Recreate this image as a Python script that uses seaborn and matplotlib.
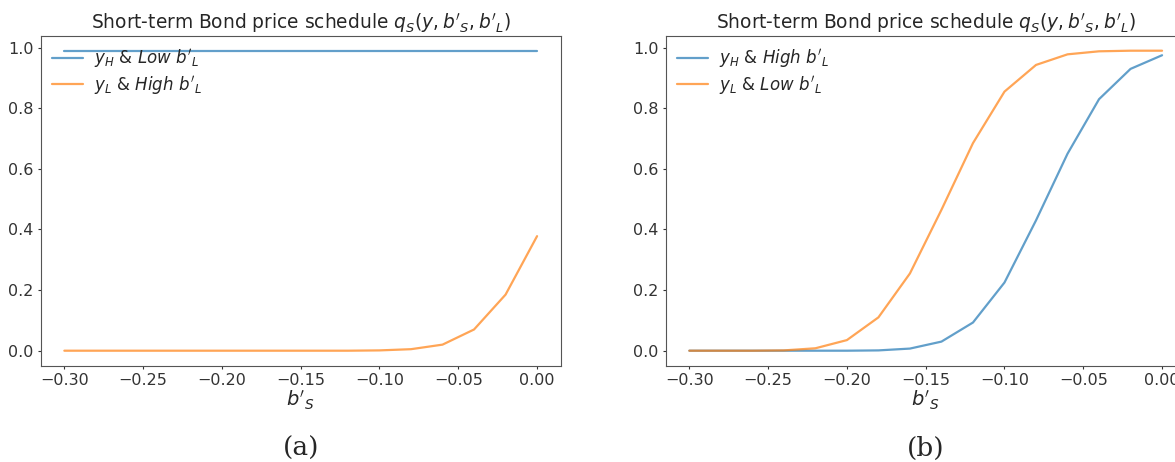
import numpy as np
import pandas as pd
import matplotlib
matplotlib.use("Agg")
import matplotlib.pyplot as plt
import seaborn as sns

sns.set_style("ticks")
plt.rcParams['font.family'] = ['DejaVu Sans']
plt.rcParams['mathtext.fontset'] = 'dejavusans'

# grid of short-term debt choices
b_s = [-0.30, -0.28, -0.26, -0.24, -0.22, -0.20, -0.18, -0.16,
       -0.14, -0.12, -0.10, -0.08, -0.06, -0.04, -0.02, 0.00]

# panel (a)
qa_high_low = [0.99] * 16
qa_low_high = [0.0, 0.0, 0.0, 0.0, 0.0, 0.0, 0.0, 0.0,
               0.0, 0.0, 0.001, 0.005, 0.02, 0.07, 0.185, 0.378]

# panel (b)
qb_high_high = [0.0, 0.0, 0.0, 0.0, 0.0, 0.0, 0.001, 0.007,
                0.03, 0.093, 0.225, 0.43, 0.65, 0.83, 0.93, 0.975]
qb_low_low = [0.0, 0.0, 0.0, 0.001, 0.008, 0.035, 0.11, 0.255,
              0.465, 0.685, 0.855, 0.943, 0.978, 0.988, 0.99, 0.99]

labels_a = [r"$y_H$ & $Low\ b'_L$", r"$y_L$ & $High\ b'_L$"]
labels_b = [r"$y_H$ & $High\ b'_L$", r"$y_L$ & $Low\ b'_L$"]

df_a = pd.DataFrame({'b': b_s * 2, 'q': qa_high_low + qa_low_high,
                     'series': [labels_a[0]] * 16 + [labels_a[1]] * 16})
df_b = pd.DataFrame({'b': b_s * 2, 'q': qb_high_high + qb_low_low,
                     'series': [labels_b[0]] * 16 + [labels_b[1]] * 16})

fig = plt.figure(figsize=(11.75, 4.62), dpi=100)
W, H = 1175, 462
ax1 = fig.add_axes([40.7 / W, 96.3 / H, 520 / W, 330 / H])
ax2 = fig.add_axes([665.7 / W, 96.3 / H, 520 / W, 330 / H])

palette = ['#1f77b4', '#ff7f0e']
title = r"Short-term Bond price schedule $q_S(y, b'_S, b'_L)$"

for ax, df, cap in [(ax1, df_a, '(a)'), (ax2, df_b, '(b)')]:
    sns.lineplot(ax=ax, data=df, x='b', y='q', hue='series', palette=palette,
                 alpha=0.7, linewidth=1.6)
    ax.set_title(title, fontsize=13.4, pad=5)
    ax.set_xlabel(r"$b'_S$", fontsize=14, labelpad=1)
    ax.set_ylabel('')
    ax.set_xticks([-0.30, -0.25, -0.20, -0.15, -0.10, -0.05, 0.00])
    ax.set_yticks([0.0, 0.2, 0.4, 0.6, 0.8, 1.0])
    ax.tick_params(labelsize=11.5, length=2.5, pad=2.5, colors='#333333')
    for s in ax.spines.values():
        s.set_color('#555555')
    ax.legend(loc='upper left', frameon=False, fontsize=12, title=None,
              borderaxespad=0.3, labelspacing=0.2, handlelength=1.85,
              handletextpad=0.65)
    ax.text(0.5, -0.25, cap, transform=ax.transAxes, ha='center', va='center',
            fontsize=19, family='DejaVu Serif')

fig.savefig('out.png', dpi=100)
